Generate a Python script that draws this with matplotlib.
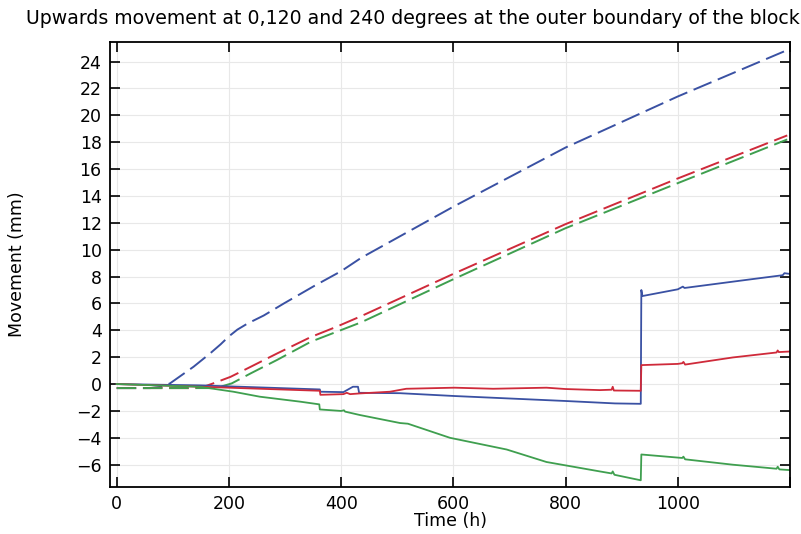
import numpy as np
import matplotlib.pyplot as plt

title = 'Upwards movement at 0,120 and 240 degrees at the outer boundary of the block'

# dashed lines
t_bd = [0, 60, 80, 95, 116, 137, 167, 185, 200, 215, 233, 262, 298, 352, 400, 436, 600, 800, 1000, 1195]
v_bd = [-0.3, -0.3, -0.2, 0.05, 0.67, 1.29, 2.3, 2.95, 3.55, 4.05, 4.5, 5.1, 6.0, 7.3, 8.4, 9.4, 13.2, 17.6, 21.4, 24.85]
t_rd = [0, 140, 155, 170, 203, 239, 286, 346, 391, 436, 600, 800, 1000, 1195]
v_rd = [-0.3, -0.3, -0.2, 0.02, 0.54, 1.29, 2.28, 3.5, 4.25, 5.06, 8.2, 11.9, 15.3, 18.5]
t_gd = [0, 170, 185, 205, 239, 286, 346, 436, 600, 800, 1000, 1195]
v_gd = [-0.3, -0.3, -0.2, 0.05, 0.8, 1.8, 3.15, 4.6, 7.8, 11.6, 14.95, 18.2]

# solid lines
t_bs = [0, 150, 362, 363, 404, 421, 430, 432, 505, 602, 800, 888, 934, 935, 937, 1000, 1009, 1012, 1122, 1187, 1190, 1199]
v_bs = [0, -0.1, -0.4, -0.57, -0.6, -0.2, -0.2, -0.65, -0.68, -0.89, -1.26, -1.44, -1.47, 7.0, 6.55, 7.05, 7.25, 7.15, 7.75, 8.1, 8.25, 8.2]
t_rs = [0, 150, 362, 363, 404, 410, 416, 432, 487, 516, 602, 671, 766, 800, 861, 882, 884, 886, 934, 935, 1000, 1008, 1010, 1013, 1098, 1176, 1178, 1180, 1199]
v_rs = [0, -0.2, -0.5, -0.8, -0.75, -0.65, -0.75, -0.7, -0.57, -0.35, -0.27, -0.35, -0.27, -0.37, -0.45, -0.42, -0.2, -0.48, -0.5, 1.41, 1.5, 1.55, 1.65, 1.45, 1.98, 2.35, 2.5, 2.38, 2.42]
t_gs = [0, 148, 208, 255, 327, 361, 362, 400, 405, 407, 433, 505, 519, 594, 695, 766, 861, 882, 884, 887, 934, 935, 1008, 1010, 1013, 1098, 1176, 1178, 1181, 1199]
v_gs = [0, -0.2, -0.57, -0.94, -1.31, -1.51, -1.89, -2.0, -1.95, -2.05, -2.3, -2.9, -2.95, -4.0, -4.87, -5.8, -6.5, -6.65, -6.5, -6.75, -7.16, -5.24, -5.5, -5.4, -5.6, -6.0, -6.3, -6.15, -6.35, -6.4]

xticks = [0, 200, 400, 600, 800, 1000, 1200]
xticklabels = ['0', '200', '400', '600', '800', '1000', '']
yticks = np.arange(-6, 25, 2)

blue = '#3a51a3'
red = '#cf2a3a'
green = '#3f9f4f'

fig = plt.figure(figsize=(8.01, 5.34), dpi=100)
ax = fig.add_axes([0.1373, 0.088, 0.849, 0.8333])

dash = (0, (10, 3.5))
ax.plot(t_bd, v_bd, color=blue, lw=1.4, linestyle=dash)
ax.plot(t_rd, v_rd, color=red, lw=1.4, linestyle=dash)
ax.plot(t_gd, v_gd, color=green, lw=1.4, linestyle=dash)
ax.plot(t_bs, v_bs, color=blue, lw=1.3)
ax.plot(t_rs, v_rs, color=red, lw=1.3)
ax.plot(t_gs, v_gs, color=green, lw=1.3)

ax.set_xlim(-12, 1200)
ax.set_ylim(-7.66, 25.45)
ax.set_xticks(xticks)
ax.set_xticklabels(xticklabels)
ax.set_yticks(yticks)
ax.grid(True, color='#e8e8e8', lw=0.8)
ax.set_axisbelow(True)
ax.tick_params(direction='in', length=7, width=1.2, top=True, right=True, labelsize=12.5, pad=6, colors='black')
for s in ax.spines.values():
    s.set_linewidth(1.3)

ax.set_xlabel('Time (h)', fontsize=12.5, labelpad=-1)
ax.set_ylabel('Movement (mm)', fontsize=12.5, labelpad=36)
fig.text(413 / 801, 1 - 18 / 534, title, fontsize=13.6, ha='center', va='center')

fig.savefig('out.png', dpi=100)
